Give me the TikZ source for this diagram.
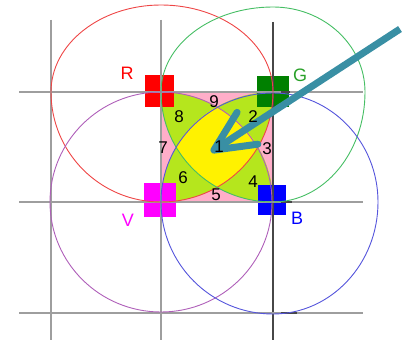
\documentclass[tikz,border=0pt]{standalone}
\usepackage{fontspec}
\setmainfont{Liberation Sans}
\usepackage{tikz}
\usetikzlibrary{arrows.meta}

\definecolor{pinkfill}{RGB}{255,174,201}
\definecolor{limefill}{RGB}{181,230,29}
\definecolor{yelfill}{RGB}{255,242,0}
\definecolor{arrowteal}{RGB}{57,143,164}
\definecolor{ringR}{RGB}{238,70,70}
\definecolor{ringG}{RGB}{70,190,100}
\definecolor{ringV}{RGB}{175,95,185}
\definecolor{ringB}{RGB}{85,85,220}
\definecolor{sqR}{RGB}{255,0,0}
\definecolor{sqG}{RGB}{0,128,0}
\definecolor{sqV}{RGB}{255,0,255}
\definecolor{sqB}{RGB}{0,0,255}
\definecolor{lblG}{RGB}{40,160,40}

\begin{document}
\begin{tikzpicture}[
    x=1pt,y=1pt,
    corner/.style={rectangle,inner sep=0pt,minimum width=30pt,minimum height=31pt},
    ring/.style={line width=0.9pt},
    gridln/.style={draw=black!38,line width=1.3pt},
    darkln/.style={draw=black!72,line width=1.6pt},
    num/.style={font=\fontsize{17}{20}\selectfont,inner sep=0pt},
    lbl/.style={font=\fontsize{18}{21}\selectfont,inner sep=0pt},
    pointer/.style={draw=arrowteal,line width=7pt,-{Straight Barb[length=40pt,width=38pt,round]}}
]
\useasboundingbox (0,0) rectangle (406,340);

% corners of the middle square
\coordinate (cR) at (161,248);
\coordinate (cG) at (273,248);
\coordinate (cV) at (161,138);
\coordinate (cB) at (273,138);

% coloured zones
\fill[pinkfill] (cV) rectangle (cG);
\begin{scope}
  \clip (cV) rectangle (cG);
  \begin{scope}
    \clip (cV) ellipse [x radius=112,y radius=110];
    \fill[limefill] (cG) ellipse [x radius=112,y radius=110];
  \end{scope}
  \begin{scope}
    \clip (cR) ellipse [x radius=112,y radius=110];
    \fill[limefill] (cB) ellipse [x radius=112,y radius=110];
  \end{scope}
  \clip (cV) ellipse [x radius=112,y radius=110];
  \clip (cG) ellipse [x radius=112,y radius=110];
  \clip (cR) ellipse [x radius=112,y radius=110];
  \fill[yelfill] (cB) ellipse [x radius=112,y radius=110];
\end{scope}

% markers
\node[corner,fill=sqR,minimum width=29pt,minimum height=32pt] (R) at (159,249) {};
\node[corner,fill=sqG,minimum width=32pt] (G) at (273,248) {};
\node[corner,fill=sqV,minimum width=32pt,minimum height=33pt] (V) at (160,140) {};
\node[corner,fill=sqB,minimum width=28pt,minimum height=29pt] (B) at (272,140) {};

% grid
\draw[gridln] (51,320) -- (51,0);
\draw[gridln] (161,320) -- (161,0);
\draw[darkln] (273,318) -- (273,0);
\foreach \y in {248,138,27}
  \draw[gridln] (19,\y) -- (363,\y);
\foreach \y/\e in {248/290,138/292,27/297}
  \draw[darkln] (281,\y) -- (\e,\y);

% circles
\draw[ring,ringR] (cR) ++(112,0)
  arc[start angle=0,end angle=90,x radius=112,y radius=87]
  arc[start angle=90,end angle=180,x radius=110,y radius=87]
  arc[start angle=180,end angle=270,x radius=110,y radius=110]
  arc[start angle=270,end angle=360,x radius=112,y radius=110] -- cycle;
\draw[ring,ringG] (cG) ++(92,0)
  arc[start angle=0,end angle=90,x radius=92,y radius=85]
  arc[start angle=90,end angle=180,x radius=112,y radius=85]
  arc[start angle=180,end angle=270,x radius=112,y radius=110]
  arc[start angle=270,end angle=360,x radius=92,y radius=110] -- cycle;
\draw[ring,ringV] (cV) ellipse [x radius=111,y radius=110];
\draw[ring,ringB] (cB) ++(105,0)
  arc[start angle=0,end angle=90,x radius=105,y radius=109]
  arc[start angle=90,end angle=180,x radius=112,y radius=109]
  arc[start angle=180,end angle=270,x radius=112,y radius=112]
  arc[start angle=270,end angle=360,x radius=105,y radius=112] -- cycle;

% labels
\node[lbl,text=sqR] (lR) at (127,267) {R};
\node[lbl,text=lblG] (lG) at (300,265) {G};
\node[lbl,text=sqV] (lV) at (128,120) {V};
\node[lbl,text=sqB] (lB) at (297,122) {B};

% pointer
\coordinate (tail) at (400,311);
\coordinate (aim) at (211,188);
\draw[pointer] (tail) -- (aim);

\foreach \k/\x/\y in {1/219/193,2/253/223,3/267/191,4/253/158,5/216/145,
                      6/183/162,7/163/192,8/179/223,9/214/238}
  \node[num] (n\k) at (\x,\y) {\k};
\end{tikzpicture}
\end{document}
